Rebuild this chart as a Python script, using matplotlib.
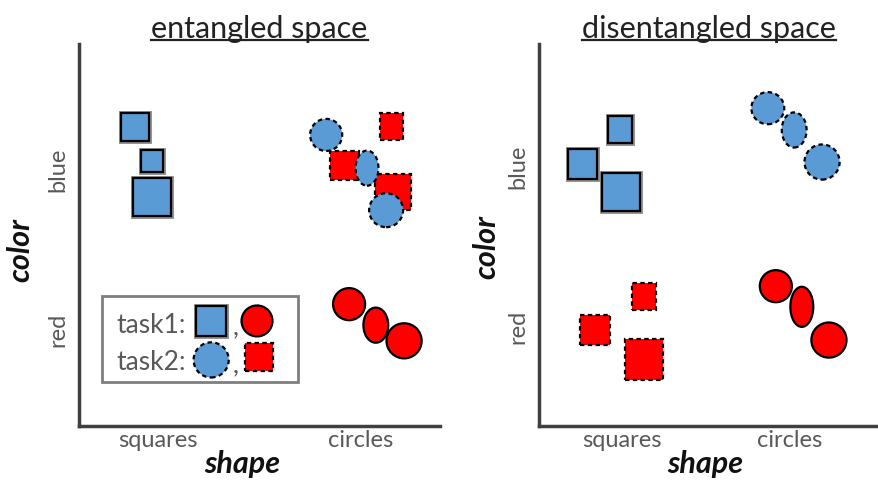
import matplotlib.pyplot as plt
import matplotlib.patches as mpatches
import matplotlib.patheffects as pe
from matplotlib.lines import Line2D

plt.rcParams['font.family'] = ['Lato', 'DejaVu Sans']

BLUE = '#5B9BD5'
RED = '#FF0000'
TXT = '#595959'

# same data unit on both axes; each shape is (x, y, width, height)
shape_labels = ['squares', 'circles']
color_labels = ['red', 'blue']

# entangled space
ent_shape_ticks = [20.7, 73.6]
ent_color_ticks = [25.4, 67.3]
ent_blue_squares = [(14.7, 78.3, 7.3, 7.3), (19.1, 69.4, 5.8, 5.8), (19.1, 59.9, 9.9, 9.9)]
ent_blue_circles = [(64.7, 76.2, 8.4, 8.4), (75.4, 67.5, 6.0, 9.2), (80.4, 56.5, 8.9, 8.9)]
ent_red_squares = [(81.9, 78.3, 6.0, 7.1), (69.4, 68.3, 7.6, 7.6), (82.2, 61.3, 9.4, 9.4)]
ent_red_circles = [(70.7, 31.9, 8.4, 8.4), (77.7, 26.4, 6.5, 9.2), (85.1, 22.3, 9.2, 9.2)]

# disentangled space
dis_shape_ticks = [21.7, 65.7]
dis_color_ticks = [26.2, 68.1]
dis_blue_squares = [(21.2, 77.7, 6.5, 7.1), (11.3, 68.6, 7.6, 7.8), (21.5, 61.3, 9.9, 9.9)]
dis_blue_circles = [(59.9, 83.2, 8.6, 8.4), (66.8, 77.5, 6.5, 9.2), (74.1, 69.1, 9.2, 9.2)]
dis_red_squares = [(27.5, 34.0, 6.3, 7.1), (14.7, 25.1, 7.9, 7.9), (27.5, 17.5, 9.9, 10.7)]
dis_red_circles = [(62.0, 36.6, 8.4, 8.4), (68.8, 31.2, 6.0, 10.5), (75.9, 22.5, 9.2, 9.2)]

# legend ("task1: blue square, red circle / task2: blue circle, red square")
leg_box = (6.0, 11.5, 51.3, 22.5)
leg_task1 = [(34.6, 27.5, 7.9, 7.9), (46.6, 27.5, 8.1, 8.1)]
leg_task2 = [(34.6, 17.3, 9.2, 9.2), (47.1, 18.1, 7.3, 7.3)]

U = 3.82  # pixels per data unit

fig = plt.figure(figsize=(8.79, 4.81), dpi=100)


def make_axes(left_px, right_px, title, sticks, cticks):
    ax = fig.add_axes([left_px / 879, (481 - 427) / 481,
                       (right_px - left_px) / 879, 382 / 481])
    ax.set_xlim(0, (right_px - left_px) / U)
    ax.set_ylim(0, 382 / U)
    for s in ['top', 'right']:
        ax.spines[s].set_visible(False)
    for s in ['left', 'bottom']:
        ax.spines[s].set_color('#404040')
        ax.spines[s].set_linewidth(2.5)
    ax.set_xticks(sticks)
    ax.set_xticklabels(shape_labels, fontsize=17, color=TXT)
    ax.set_yticks(cticks)
    ax.set_yticklabels(color_labels, fontsize=17, color=TXT, rotation=90, va='center')
    ax.tick_params(length=0)
    ax.tick_params(axis='x', pad=2)
    ax.tick_params(axis='y', pad=8)
    ax.set_xlabel('shape', fontsize=22, fontweight='bold', style='italic', color='#111')
    ax.set_ylabel('color', fontsize=22, fontweight='bold', style='italic', color='#111')
    t = ax.set_title(title, fontsize=22, color='#222', pad=5)
    return ax, t


def draw(ax, items, kind, color, dashed):
    for x, y, w, h in items:
        if kind == 'sq':
            p = mpatches.Rectangle((x - w / 2, y - h / 2), w, h)
        else:
            p = mpatches.Ellipse((x, y), w, h)
        p.set_facecolor(color)
        p.set_edgecolor('black')
        p.set_linewidth(1.6)
        if dashed:
            p.set_linestyle((0, (2.0, 1.5)))
        elif kind == 'sq':
            p.set_path_effects([pe.Stroke(linewidth=3.5, foreground='#8c8c8c'), pe.Normal()])
        ax.add_patch(p)


ax1, t1 = make_axes(79, 440, 'entangled space', ent_shape_ticks, ent_color_ticks)
draw(ax1, ent_red_squares, 'sq', RED, True)
draw(ax1, ent_blue_circles, 'ci', BLUE, True)
draw(ax1, ent_blue_squares, 'sq', BLUE, False)
draw(ax1, ent_red_circles, 'ci', RED, False)
ax1.xaxis.set_label_coords(0.452, -0.06)
ax1.yaxis.set_label_coords(-0.125, 0.463)

# legend box
ax1.add_patch(mpatches.Rectangle(leg_box[:2], leg_box[2], leg_box[3],
                                 facecolor='white', edgecolor='#7f7f7f', linewidth=2))
ax1.text(9.9, 26.7, 'task1:', fontsize=19, color=TXT, va='center')
ax1.text(9.9, 17.0, 'task2:', fontsize=19, color=TXT, va='center')
ax1.text(40.3, 24.3, ',', fontsize=19, color=TXT, va='baseline')
ax1.text(40.3, 14.3, ',', fontsize=19, color=TXT, va='baseline')
draw(ax1, leg_task1[:1], 'sq', BLUE, False)
draw(ax1, leg_task1[1:], 'ci', RED, False)
draw(ax1, leg_task2[:1], 'ci', BLUE, True)
draw(ax1, leg_task2[1:], 'sq', RED, True)

ax2, t2 = make_axes(539, 879, 'disentangled space', dis_shape_ticks, dis_color_ticks)
draw(ax2, dis_blue_squares, 'sq', BLUE, False)
draw(ax2, dis_blue_circles, 'ci', BLUE, True)
draw(ax2, dis_red_squares, 'sq', RED, True)
draw(ax2, dis_red_circles, 'ci', RED, False)
ax2.xaxis.set_label_coords(0.488, -0.06)
ax2.yaxis.set_label_coords(-0.115, 0.471)

# underline the titles
renderer = fig.canvas.get_renderer()
for t in [t1, t2]:
    bb = t.get_window_extent(renderer).transformed(fig.transFigure.inverted())
    fig.add_artist(Line2D([bb.x0, bb.x1], [bb.y0 + 0.004, bb.y0 + 0.004],
                          transform=fig.transFigure, color='#222', linewidth=1.6))

fig.savefig('out.png', dpi=100)
